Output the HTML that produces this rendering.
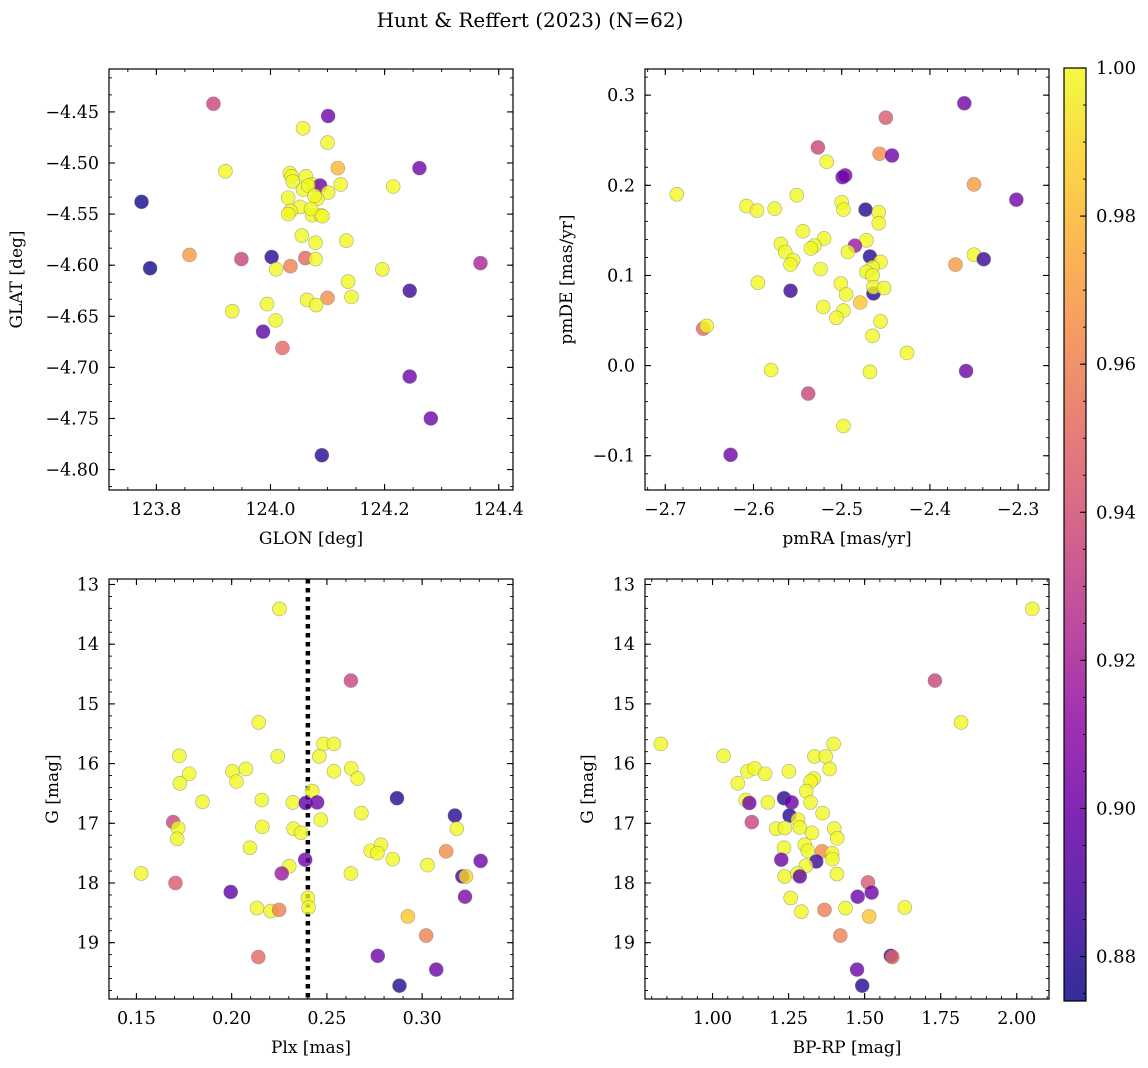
<!DOCTYPE html>
<html><head><meta charset="utf-8"><style>
body{margin:0;background:#fff;}
svg{display:block;font-family:"DejaVu Serif","Liberation Serif",serif;}
</style></head><body>
<svg id="fig" width="1148" height="1068" viewBox="0 0 1148 1068" xmlns="http://www.w3.org/2000/svg">
<rect width="1148" height="1068" fill="#fff"/>
<text x="530" y="27" font-size="20" text-anchor="middle">Hunt &amp; Reffert (2023) (N=62)</text>
<defs><linearGradient id="cbg" x1="0" y1="1" x2="0" y2="0"></linearGradient></defs>
</svg>
<script>
// ---- data ----
const glon=[123.900,124.101,124.057,124.100,124.118,123.921,124.261,124.034,124.037,124.039,124.062,124.073,124.087,124.057,124.123,124.101,124.082,124.215,123.774,124.031,124.052,124.035,124.031,124.073,124.088,124.055,124.079,124.133,123.858,123.949,124.002,124.061,124.079,123.789,124.010,124.035,124.196,124.368,124.136,124.244,124.100,124.142,124.064,124.080,123.994,123.933,124.009,123.987,124.021,124.244,124.281,124.090,124.071,124.066,124.077,124.091];
const glat=[-4.442,-4.454,-4.466,-4.480,-4.505,-4.508,-4.505,-4.510,-4.513,-4.518,-4.513,-4.521,-4.522,-4.526,-4.521,-4.529,-4.535,-4.523,-4.538,-4.534,-4.543,-4.547,-4.550,-4.551,-4.551,-4.571,-4.578,-4.576,-4.590,-4.594,-4.592,-4.593,-4.594,-4.603,-4.604,-4.601,-4.604,-4.598,-4.616,-4.625,-4.632,-4.631,-4.634,-4.639,-4.638,-4.645,-4.654,-4.665,-4.681,-4.709,-4.750,-4.786,-4.545,-4.522,-4.532,-4.552];
const probPos=[.935,.90,1,1,.98,1,.90,1,1,1,1,1,.90,1,1,1,1,1,.875,1,1,1,1,1,1,1,1,1,.97,.935,.88,.95,1,.875,1,.96,1,.92,1,.885,.965,1,1,1,1,1,1,.895,.95,.90,.90,.88,1,1,1,1];

const pmra=[-2.361,-2.450,-2.527,-2.457,-2.443,-2.517,-2.496,-2.499,-2.350,-2.302,-2.687,-2.551,-2.608,-2.596,-2.576,-2.500,-2.498,-2.473,-2.458,-2.458,-2.544,-2.520,-2.472,-2.569,-2.564,-2.531,-2.535,-2.485,-2.493,-2.468,-2.555,-2.558,-2.456,-2.465,-2.472,-2.465,-2.524,-2.350,-2.339,-2.371,-2.595,-2.558,-2.501,-2.495,-2.464,-2.464,-2.452,-2.479,-2.521,-2.498,-2.506,-2.456,-2.465,-2.657,-2.653,-2.426,-2.580,-2.468,-2.359,-2.538,-2.498,-2.626];
const pmde=[.291,.275,.242,.235,.233,.226,.211,.209,.201,.184,.190,.189,.177,.172,.174,.181,.173,.173,.170,.158,.149,.141,.139,.135,.126,.133,.130,.133,.126,.121,.117,.112,.115,.109,.104,.100,.107,.123,.118,.112,.092,.083,.091,.079,.080,.087,.086,.070,.065,.061,.053,.049,.033,.041,.044,.014,-.005,-.007,-.006,-.031,-.067,-.099];
const probPm=[.90,.945,.935,.965,.90,1,.905,.90,.97,.90,1,1,1,1,1,1,1,.88,1,1,1,1,1,1,1,1,1,.915,1,.88,1,1,1,1,1,1,1,1,.885,.97,1,.885,1,1,.88,1,1,.985,1,1,1,1,1,.95,1,1,1,1,.90,.935,1,.90];

const plx=[.2251,.2626,.2142,.2482,.2537,.1725,.2242,.2460,.1777,.2004,.2075,.2025,.1728,.2537,.2628,.2661,.1847,.2158,.2321,.2389,.2423,.2449,.2868,.2681,.2468,.3172,.1693,.1719,.1714,.2161,.2325,.2365,.3182,.2096,.2730,.2784,.2765,.2846,.3126,.3307,.3028,.2386,.2302,.2263,.2626,.1525,.1705,.1995,.3211,.3230,.3225,.2400,.2404,.2133,.2205,.2249,.2925,.3021,.2140,.2767,.3074,.2881];
const gPlx=[13.41,14.61,15.31,15.67,15.67,15.87,15.88,15.88,16.17,16.13,16.09,16.30,16.33,16.13,16.08,16.25,16.64,16.61,16.65,16.66,16.46,16.65,16.58,16.83,16.94,16.87,16.98,17.08,17.26,17.06,17.09,17.16,17.09,17.41,17.46,17.36,17.50,17.60,17.47,17.63,17.70,17.61,17.72,17.84,17.84,17.84,18.00,18.15,17.89,17.89,18.23,18.25,18.41,18.42,18.47,18.45,18.56,18.88,19.24,19.22,19.45,19.72];
const probPlx=[1,.935,1,1,1,1,1,1,1,1,1,1,1,1,1,1,1,1,1,.895,1,.90,.88,1,1,.88,.935,1,1,1,1,1,1,1,1,1,1,1,.965,.90,1,.90,1,.915,1,1,.945,.895,.885,.99,.905,1,1,1,1,.96,.985,.96,.95,.90,.90,.88];
const plxRef=[0.24];

const bprp=[2.051,1.731,1.817,0.830,1.398,1.036,1.335,1.372,1.385,1.251,1.115,1.138,1.173,1.083,1.333,1.322,1.308,1.109,1.121,1.182,1.235,1.260,1.322,1.362,1.253,1.281,1.129,1.209,1.238,1.287,1.400,1.410,1.327,1.235,1.303,1.313,1.360,1.393,1.394,1.226,1.341,1.307,1.409,1.237,1.279,1.287,1.511,1.477,1.523,1.257,1.292,1.368,1.437,1.632,1.515,1.420,1.586,1.591,1.475,1.492];
const gCmd=[13.41,14.61,15.31,15.67,15.67,15.87,15.88,15.88,16.09,16.13,16.13,16.08,16.17,16.33,16.25,16.30,16.46,16.61,16.66,16.65,16.58,16.65,16.65,16.83,16.87,16.94,16.98,17.09,17.08,17.07,17.09,17.25,17.16,17.41,17.36,17.46,17.47,17.50,17.60,17.61,17.64,17.71,17.85,17.89,17.84,17.89,17.99,18.23,18.16,18.25,18.48,18.45,18.42,18.41,18.56,18.88,19.22,19.24,19.45,19.72];
const probCmd=[1,.935,1,1,1,1,1,1,1,1,1,1,1,1,1,1,1,1,.90,1,.88,.90,1,1,.88,1,.935,1,1,1,1,1,1,1,1,1,.965,1,1,.90,.885,1,1,1,1,.895,.945,.90,.90,1,1,.96,1,1,.985,.96,.88,.95,.90,.88];

const cbTicks=[0.88,0.90,0.92,0.94,0.96,0.98,1.00];
const VMIN=0.874, VMAX=1.0;

// ---- helpers ----
const NS="http://www.w3.org/2000/svg";
const svg=document.getElementById('fig');
function mk(tag,attrs,parent){const e=document.createElementNS(NS,tag);for(const k in attrs)e.setAttribute(k,attrs[k]);(parent||svg).appendChild(e);return e;}
const stops=[[0,'#0d0887'],[.1,'#41049d'],[.2,'#6a00a8'],[.3,'#8f0da4'],[.4,'#b12a90'],[.5,'#cc4778'],[.6,'#e16462'],[.7,'#f2844b'],[.8,'#fca636'],[.9,'#fcce25'],[1,'#f0f921']];
function hex(h){return [1,3,5].map(i=>parseInt(h.substr(i,2),16));}
function plasma(t){t=Math.max(0,Math.min(1,t));for(let i=1;i<stops.length;i++){if(t<=stops[i][0]){const a=stops[i-1],b=stops[i];const f=(t-a[0])/(b[0]-a[0]);const ca=hex(a[1]),cb=hex(b[1]);return 'rgb('+ca.map((v,j)=>Math.round(v+(cb[j]-v)*f)).join(',')+')';}}return stops[10][1];}
function fmt(v,d){const s=Math.abs(v).toFixed(d);return (v<0?'\u2212':'')+s;}

function panel(o){
  const g=mk('g',{});
  
  
  const X=v=>o.L+(v-o.x0)/(o.x1-o.x0)*(o.R-o.L);
  const Y=v=>o.B-(v-o.y0)/(o.y1-o.y0)*(o.B-o.T);
  const clip='clip-'+o.name;
  const cp=mk('clipPath',{id:clip},g);mk('rect',{x:o.L,y:o.T,width:o.R-o.L,height:o.B-o.T},cp);
  const pts=mk('g',{'clip-path':'url(#'+clip+')'},g);
  
  
  if(o.vline){o.vline.forEach(v=>{const l=mk('line',{x1:X(v),x2:X(v),y1:o.T,y2:o.B,stroke:'#000','stroke-width':4.5,'stroke-dasharray':'4.5 4.5'},pts);
    
    });}
  o.xs.forEach((xv,i)=>{
    const c=mk('circle',{cx:X(xv),cy:Y(o.ys[i]),r:7,fill:plasma((o.p[i]-VMIN)/(VMAX-VMIN)),'fill-opacity':0.8,stroke:'#777','stroke-opacity':0.6,'stroke-width':0.6},pts);
    
    
  });
  mk('rect',{x:o.L,y:o.T,width:o.R-o.L,height:o.B-o.T,fill:'none',stroke:'#000','stroke-width':1.2},g);
  o.xt.forEach(v=>{const x=X(v);mk('line',{x1:x,x2:x,y1:o.B,y2:o.B-6,stroke:'#000','stroke-width':1.1},g);mk('line',{x1:x,x2:x,y1:o.T,y2:o.T+6,stroke:'#000','stroke-width':1.1},g);
    const t=mk('text',{x:x,y:o.B+25,'font-size':17.5,'text-anchor':'middle'},g);t.textContent=fmt(v,o.xd);
    });
  const xm=(o.xt[1]-o.xt[0])/o.xn;
  for(let v=o.xt[0]-xm*20;v<=o.x1;v+=xm){if(v<o.x0)continue;const x=X(v);mk('line',{x1:x,x2:x,y1:o.B,y2:o.B-3,stroke:'#000','stroke-width':0.9},g);mk('line',{x1:x,x2:x,y1:o.T,y2:o.T+3,stroke:'#000','stroke-width':0.9},g);}
  o.yt.forEach(v=>{const y=Y(v);mk('line',{x1:o.L,x2:o.L+6,y1:y,y2:y,stroke:'#000','stroke-width':1.1},g);mk('line',{x1:o.R,x2:o.R-6,y1:y,y2:y,stroke:'#000','stroke-width':1.1},g);
    const t=mk('text',{x:o.L-10,y:y+6,'font-size':17.5,'text-anchor':'end'},g);t.textContent=fmt(v,o.yd);
    });
  const ym=(o.yt[1]-o.yt[0])/o.yn;
  const ylo=Math.min(o.y0,o.y1),yhi=Math.max(o.y0,o.y1);
  for(let v=o.yt[0]-ym*40;v<=yhi+1e-9;v+=ym){if(v<ylo)continue;const y=Y(v);mk('line',{x1:o.L,x2:o.L+3,y1:y,y2:y,stroke:'#000','stroke-width':0.9},g);mk('line',{x1:o.R,x2:o.R-3,y1:y,y2:y,stroke:'#000','stroke-width':0.9},g);}
  const xl=mk('text',{x:(o.L+o.R)/2,y:o.B+54,'font-size':17,'text-anchor':'middle'},g);xl.textContent=o.xlabel;
  
  const yc=(o.T+o.B)/2;
  const yl=mk('text',{x:o.ylx,y:yc,'font-size':17,'text-anchor':'middle',transform:'rotate(-90 '+o.ylx+' '+yc+')'},g);yl.textContent=o.ylabel;
  
}

panel({name:'glon-glat-panel',L:109,R:513,T:69,B:490,x0:123.717,x1:124.425,y0:-4.820,y1:-4.408,xs:glon,ys:glat,p:probPos,
  xt:[123.8,124.0,124.2,124.4],xd:1,xn:4,yt:[-4.80,-4.75,-4.70,-4.65,-4.60,-4.55,-4.50,-4.45],yd:2,yn:3,xlabel:'GLON [deg]',ylabel:'GLAT [deg]',ylx:22});
panel({name:'pm-panel',L:645,R:1049,T:69,B:490,x0:-2.723,x1:-2.265,y0:-0.138,y1:0.329,xs:pmra,ys:pmde,p:probPm,
  xt:[-2.7,-2.6,-2.5,-2.4,-2.3],xd:1,xn:5,yt:[-0.1,0.0,0.1,0.2,0.3],yd:1,yn:5,xlabel:'pmRA [mas/yr]',ylabel:'pmDE [mas/yr]',ylx:572});
panel({name:'plx-g-panel',L:109,R:513,T:579,B:999,x0:0.1356,x1:0.3477,y0:19.943,y1:12.908,xs:plx,ys:gPlx,p:probPlx,vline:plxRef,
  xt:[0.15,0.20,0.25,0.30],xd:2,xn:5,yt:[13,14,15,16,17,18,19],yd:0,yn:5,xlabel:'Plx [mas]',ylabel:'G [mag]',ylx:58});
panel({name:'cmd-panel',L:645,R:1049,T:579,B:999,x0:0.778,x1:2.106,y0:19.943,y1:12.908,xs:bprp,ys:gCmd,p:probCmd,
  xt:[1.00,1.25,1.50,1.75,2.00],xd:2,xn:5,yt:[13,14,15,16,17,18,19],yd:0,yn:5,xlabel:'BP-RP [mag]',ylabel:'G [mag]',ylx:593});

const grad=document.getElementById('cbg');
for(let i=0;i<=20;i++){mk('stop',{offset:(i/20),'stop-color':plasma(i/20),'stop-opacity':0.85},grad);}
const cb=mk('g',{});


const cT=68,cB=1001,cL=1064,cR=1086;
mk('rect',{x:cL,y:cT,width:cR-cL,height:cB-cT,fill:'url(#cbg)',stroke:'#000','stroke-width':1.2},cb);
const CY=v=>cB-(v-VMIN)/(VMAX-VMIN)*(cB-cT);
cbTicks.forEach(v=>{const y=CY(v);mk('line',{x1:cR,x2:cR-6,y1:y,y2:y,stroke:'#000','stroke-width':1.1},cb);
  const t=mk('text',{x:1096,y:y+6,'font-size':18},cb);t.textContent=v.toFixed(2);
  });
for(let v=0.875;v<1.0;v+=0.005){const y=CY(v);mk('line',{x1:cR,x2:cR-3,y1:y,y2:y,stroke:'#000','stroke-width':0.9},cb);}
</script>
</body></html>
